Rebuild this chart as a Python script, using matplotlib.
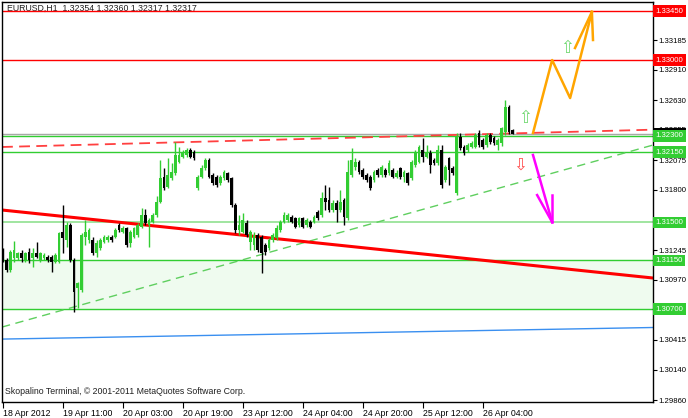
import matplotlib
matplotlib.use("Agg")
import matplotlib.pyplot as plt
import matplotlib.transforms as mtransforms
import numpy as np

# EURUSD H1 bars (open, high, low, close)
opens = [1.31245, 1.31153, 1.31061, 1.31172, 1.31172, 1.31218, 1.31153, 1.31227, 1.31172, 1.31218,
         1.31153, 1.31172, 1.31181, 1.31181, 1.31134, 1.31134, 1.31412, 1.31338, 1.31476, 1.31153,
         1.30894, 1.30876, 1.31365, 1.31338, 1.31338, 1.31218, 1.31264, 1.31319, 1.31338, 1.31365,
         1.31365, 1.31476, 1.31412, 1.31449, 1.31310, 1.31365, 1.31384, 1.31458, 1.31569, 1.31476,
         1.31504, 1.31569, 1.31689, 1.31920, 1.31827, 1.31910, 1.31957, 1.32058, 1.32104, 1.32123,
         1.32169, 1.32150, 1.31818, 1.31920, 1.32003, 1.32077, 1.31938, 1.31920, 1.31864, 1.31910,
         1.31957, 1.31910, 1.31661, 1.31430, 1.31412, 1.31495, 1.31319, 1.31292, 1.31384, 1.31365,
         1.31292, 1.31264, 1.31338, 1.31356, 1.31430, 1.31504, 1.31522, 1.31550, 1.31541, 1.31476,
         1.31541, 1.31476, 1.31504, 1.31504, 1.31596, 1.31569, 1.31726, 1.31707, 1.31615, 1.31680,
         1.31615, 1.31707, 1.31541, 1.31938, 1.32012, 1.32058, 1.31984, 1.31938, 1.31920, 1.31892,
         1.31984, 1.31938, 1.31984, 1.31957, 1.31984, 1.31920, 1.32003, 1.31920, 1.31957, 1.31910,
         1.32030, 1.32058, 1.32169, 1.32104, 1.32141, 1.32077, 1.32049, 1.32169, 1.31892, 1.32095,
         1.32003, 1.31772, 1.32289, 1.32197, 1.32169, 1.32197, 1.32197, 1.32326, 1.32261, 1.32215,
         1.32308, 1.32280, 1.32215, 1.32234, 1.32335, 1.32566, 1.32354]
highs = [1.31264, 1.31172, 1.31245, 1.31329, 1.31227, 1.31245, 1.31227, 1.31264, 1.31264, 1.31319,
         1.31227, 1.31218, 1.31199, 1.31199, 1.31218, 1.31412, 1.31661, 1.31504, 1.31495, 1.31172,
         1.30950, 1.31402, 1.31522, 1.31449, 1.31365, 1.31338, 1.31356, 1.31384, 1.31384, 1.31384,
         1.31449, 1.31495, 1.31467, 1.31458, 1.31430, 1.31458, 1.31495, 1.31633, 1.31624, 1.31541,
         1.31587, 1.31744, 1.32077, 1.32003, 1.32095, 1.32049, 1.32243, 1.32197, 1.32169, 1.32187,
         1.32187, 1.32169, 1.31938, 1.32030, 1.32095, 1.32095, 1.31957, 1.31938, 1.31938, 1.31984,
         1.31966, 1.31920, 1.31680, 1.31569, 1.31587, 1.31522, 1.31430, 1.31412, 1.31402, 1.31384,
         1.31310, 1.31356, 1.31402, 1.31476, 1.31522, 1.31596, 1.31587, 1.31569, 1.31550, 1.31550,
         1.31550, 1.31541, 1.31522, 1.31569, 1.31615, 1.31781, 1.31846, 1.31827, 1.31707, 1.31707,
         1.31800, 1.31726, 1.32077, 1.32187, 1.32095, 1.32077, 1.32003, 1.31957, 1.31938, 1.31984,
         1.32003, 1.32030, 1.32003, 1.32077, 1.32003, 1.31984, 1.32012, 1.31984, 1.31966, 1.32077,
         1.32169, 1.32215, 1.32280, 1.32215, 1.32169, 1.32095, 1.32215, 1.32215, 1.32030, 1.32104,
         1.32021, 1.32326, 1.32326, 1.32215, 1.32234, 1.32252, 1.32326, 1.32354, 1.32280, 1.32326,
         1.32326, 1.32298, 1.32280, 1.32381, 1.32631, 1.32585, 1.32360]
lows = [1.31134, 1.31042, 1.31042, 1.31134, 1.31153, 1.31134, 1.31134, 1.31125, 1.31088, 1.31172,
        1.31134, 1.31153, 1.31134, 1.31042, 1.31125, 1.31125, 1.31218, 1.31273, 1.31134, 1.30673,
        1.30710, 1.30857, 1.31292, 1.31310, 1.31199, 1.31181, 1.31245, 1.31310, 1.31319, 1.31319,
        1.31356, 1.31412, 1.31402, 1.31273, 1.31273, 1.31356, 1.31365, 1.31449, 1.31476, 1.31273,
        1.31495, 1.31550, 1.31680, 1.31800, 1.31818, 1.31892, 1.31938, 1.32049, 1.32095, 1.32104,
        1.32095, 1.32077, 1.31800, 1.31910, 1.31984, 1.31910, 1.31846, 1.31827, 1.31846, 1.31892,
        1.31873, 1.31643, 1.31402, 1.31384, 1.31402, 1.31365, 1.31245, 1.31245, 1.31227, 1.31033,
        1.31199, 1.31245, 1.31319, 1.31338, 1.31412, 1.31495, 1.31504, 1.31495, 1.31449, 1.31458,
        1.31449, 1.31458, 1.31449, 1.31495, 1.31522, 1.31550, 1.31615, 1.31596, 1.31596, 1.31504,
        1.31596, 1.31476, 1.31522, 1.31920, 1.31984, 1.31947, 1.31901, 1.31873, 1.31800, 1.31873,
        1.31920, 1.31920, 1.31920, 1.31938, 1.31910, 1.31910, 1.31901, 1.31873, 1.31846, 1.31892,
        1.32012, 1.32049, 1.32058, 1.32095, 1.31957, 1.32030, 1.32030, 1.31818, 1.31873, 1.31846,
        1.31938, 1.31753, 1.32169, 1.32123, 1.32150, 1.32187, 1.32187, 1.32197, 1.32178, 1.32197,
        1.32225, 1.32215, 1.32169, 1.32206, 1.32308, 1.32317, 1.32317]
closes = [1.31153, 1.31061, 1.31227, 1.31245, 1.31218, 1.31172, 1.31218, 1.31153, 1.31218, 1.31181,
          1.31218, 1.31199, 1.31153, 1.31134, 1.31199, 1.31402, 1.31356, 1.31476, 1.31153, 1.30857,
          1.30941, 1.31384, 1.31412, 1.31430, 1.31218, 1.31310, 1.31338, 1.31365, 1.31365, 1.31338,
          1.31430, 1.31430, 1.31449, 1.31292, 1.31412, 1.31449, 1.31476, 1.31569, 1.31495, 1.31522,
          1.31569, 1.31689, 1.31910, 1.31818, 1.31938, 1.31966, 1.32123, 1.32123, 1.32150, 1.32169,
          1.32104, 1.32095, 1.31920, 1.32003, 1.32077, 1.31920, 1.31864, 1.31846, 1.31920, 1.31966,
          1.31892, 1.31661, 1.31430, 1.31476, 1.31522, 1.31384, 1.31412, 1.31384, 1.31245, 1.31218,
          1.31227, 1.31338, 1.31384, 1.31449, 1.31504, 1.31569, 1.31569, 1.31504, 1.31458, 1.31541,
          1.31458, 1.31522, 1.31458, 1.31550, 1.31541, 1.31726, 1.31689, 1.31615, 1.31680, 1.31615,
          1.31689, 1.31550, 1.31966, 1.32077, 1.32058, 1.31966, 1.31920, 1.31892, 1.31818, 1.31966,
          1.31938, 1.32012, 1.31938, 1.32049, 1.31920, 1.31957, 1.31920, 1.31966, 1.31864, 1.32058,
          1.32150, 1.32197, 1.32104, 1.32141, 1.32030, 1.32049, 1.32169, 1.31846, 1.32012, 1.31984,
          1.31957, 1.32289, 1.32187, 1.32141, 1.32215, 1.32234, 1.32308, 1.32215, 1.32197, 1.32308,
          1.32243, 1.32234, 1.32261, 1.32372, 1.32566, 1.32335, 1.32317]

# axis labels
time_ticks = [0, 16, 32, 48, 64, 80, 96, 112, 128]
time_labels = ["18 Apr 2012", "19 Apr 11:00", "20 Apr 03:00", "20 Apr 19:00", "23 Apr 12:00",
               "24 Apr 04:00", "24 Apr 20:00", "25 Apr 12:00", "26 Apr 04:00"]
price_ticks = [1.29860, 1.30140, 1.30415, 1.30695, 1.30970, 1.31245, 1.31525, 1.31800,
               1.32075, 1.32355, 1.32630, 1.32910, 1.33185, 1.33465]

# horizontal levels
red_levels = [1.33450, 1.33000]
green_levels = [1.32300, 1.32150, 1.31150, 1.30700]
light_level = 1.31500
bid_price = 1.32317
zone = (1.30700, 1.31150)

# trend lines (bar index, price)
red_trend_x, red_trend_y = [-0.2, 173.4], [1.31615, 1.30987]
red_dash_x, red_dash_y = [-0.2, 173.4], [1.32197, 1.32357]
green_dash_x, green_dash_y = [-0.2, 173.4], [1.30534, 1.32215]
blue_x, blue_y = [-0.2, 173.4], [1.30423, 1.30530]

# scenario arrows
orange_x = [141.4, 146.5, 151.3, 157.1]
orange_y = [1.32326, 1.33000, 1.32649, 1.33444]
orange_barbs = [(152.6, 1.33111), (157.4, 1.33185)]
magenta_x = [141.4, 146.5]
magenta_y = [1.32123, 1.31504]
magenta_barbs = [(142.5, 1.31753), (146.5, 1.31753)]

UP = '#32CD32'
FONT = 'Liberation Sans'

fig = plt.figure(figsize=(6.88, 4.18), dpi=100)
ax = fig.add_axes([2 / 688, 16 / 418, 651 / 688, 400 / 418])
ax.set_xlim(-0.2, 173.4)
ax.set_ylim(1.29842, 1.33536)

# zone and levels
ax.axhspan(zone[0], zone[1], color='#effbef', zorder=0)
for lv in red_levels:
    ax.axhline(lv, color='red', lw=1, zorder=1)
ax.axhline(bid_price, color='#a8a8a8', lw=1, zorder=1)
for lv in green_levels:
    ax.axhline(lv, color=UP, lw=1, zorder=1)
ax.axhline(light_level, color='#90e090', lw=1.2, zorder=1)

ax.plot(blue_x, blue_y, color='#3a8ff0', lw=1, zorder=1)
ax.plot(green_dash_x, green_dash_y, color='#5fcf5f', lw=1, dashes=(6, 4), zorder=1)
ax.plot(red_dash_x, red_dash_y, color='#ff4040', lw=1.3, dashes=(6, 3.5), zorder=2)
ax.plot(red_trend_x, red_trend_y, color='red', lw=2.2, zorder=2)

# candles
x = np.arange(len(opens))
o = np.array(opens)
h = np.array(highs)
l = np.array(lows)
c = np.array(closes)
cols = np.where(c >= o, UP, 'black')
ax.vlines(x, l, h, colors=cols, lw=1, zorder=3)
body_lo = np.minimum(o, c)
body_h = np.maximum(np.abs(c - o), 0.00004)
ax.bar(x, body_h, bottom=body_lo, width=0.75, color=cols, lw=0, zorder=4)

# arrows
ax.plot(orange_x, orange_y, color='#FFA500', lw=1.8, zorder=5)
for bx, by in orange_barbs:
    ax.plot([orange_x[-1], bx], [orange_y[-1], by], color='#FFA500', lw=1.8, zorder=5)
ax.plot(magenta_x, magenta_y, color='#FF00FF', lw=1.8, zorder=5)
for bx, by in magenta_barbs:
    ax.plot([magenta_x[-1], bx], [magenta_y[-1], by], color='#FF00FF', lw=1.8, zorder=5)
ax.text(150.5, 1.33111, '\u21e7', color='#70d870', fontsize=12, ha='center', va='center',
        family='DejaVu Sans', zorder=5)
ax.text(139.3, 1.32465, '\u21e7', color='#70d870', fontsize=12, ha='center', va='center',
        family='DejaVu Sans', zorder=5)
ax.text(138.0, 1.32031, '\u21e9', color='#ff5050', fontsize=12, ha='center', va='center',
        family='DejaVu Sans', zorder=5)

# axes styling
for sp in ax.spines.values():
    sp.set_linewidth(1)
    sp.set_color('black')
ax.yaxis.tick_right()
ax.set_yticks(price_ticks)
ax.set_yticklabels([f'{p:.5f}' for p in price_ticks], fontsize=5.6, family=FONT)
ax.tick_params(axis='y', direction='out', length=3, width=0.8, pad=1.2)
ax.set_xticks(time_ticks)
ax.set_xticklabels(time_labels, fontsize=6.3, family=FONT, ha='left')
ax.tick_params(axis='x', direction='out', length=4, width=0.8, pad=1)

# price boxes on the right axis
trans = mtransforms.blended_transform_factory(ax.transAxes, ax.transData)
box_levels = [(bid_price, 'black')] + [(lv, 'red') for lv in red_levels] + \
             [(lv, UP) for lv in green_levels] + [(light_level, UP)]
for lv, col in box_levels:
    ax.text(1.004, lv, f'{lv:.5f}', transform=trans, color='white', fontsize=5.6, family=FONT,
            ha='left', va='center', clip_on=False, zorder=6,
            bbox=dict(boxstyle='square,pad=0.3', fc=col, ec='none'))

ax.text(5 / 651, 1 - 6 / 400, 'EURUSD,H1  1.32354 1.32360 1.32317 1.32317', transform=ax.transAxes,
        fontsize=6.3, family=FONT, color='#202020', ha='left', va='center', zorder=0.5)
ax.text(3 / 651, 10 / 400, 'Skopalino Terminal, \u00a9 2001-2011 MetaQuotes Software Corp.',
        transform=ax.transAxes, fontsize=6.3, family=FONT, color='#202020', ha='left', va='center')

fig.savefig('out.png', dpi=100, facecolor='white')
